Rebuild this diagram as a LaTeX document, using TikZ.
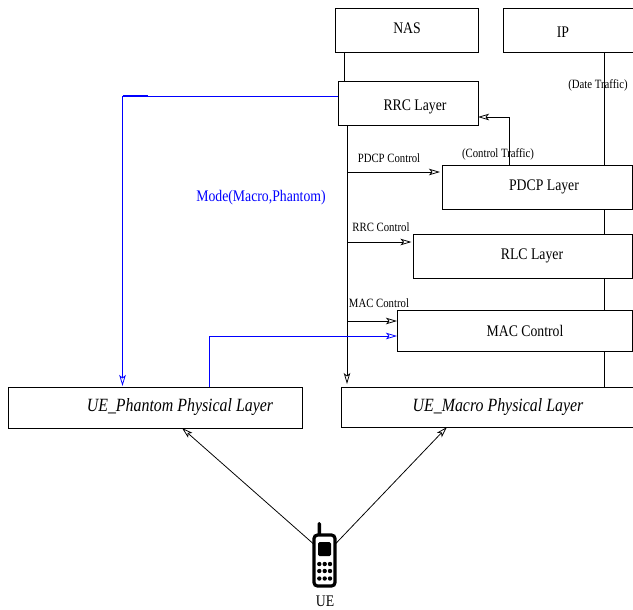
\documentclass[tikz,border=0pt]{standalone}
\usepackage{fontspec}
\setmainfont[FakeStretch=0.85]{Liberation Serif}
\usetikzlibrary{
	calc,               %计算
	positioning,
	arrows.meta         %提供各种箭头
}
\def\px{0.25mm}
\tikzset{
	every picture/.style={
		>={Stealth[open,length=11*\px,width=6.5*\px,inset=2.5*\px]},
		line width=0.55pt
}}
\tikzstyle{layerbox}=[rectangle,
draw,
anchor=north west,
inner sep=0pt,
outer sep=0pt]
\tikzstyle{layertext}=[font=\fontsize{11.5}{13}\selectfont,inner sep=0pt]
\tikzstyle{italictext}=[font=\fontsize{13.3}{15}\selectfont\itshape,inner sep=0pt]
\tikzstyle{smalltext}=[font=\fontsize{9}{11}\selectfont,inner sep=0pt]
\tikzset{modeline/.style={draw=blue}}

\begin{document}
\begin{tikzpicture}[x=\px,y=-\px]
\clip (0,0) rectangle (633,609);
\node[layerbox,minimum width=143*\px,minimum height=44*\px] (nas) at (335,8) {};
\node[layerbox,minimum width=137*\px,minimum height=44*\px] (ip) at (503,8) {};
\node[layerbox,minimum width=140*\px,minimum height=44*\px] (rrc) at (338,81) {};
\node[layerbox,minimum width=190*\px,minimum height=44*\px] (pdcp) at (442,165) {};
\node[layerbox,minimum width=218.5*\px,minimum height=44*\px] (rlc) at (413.5,234) {};
\node[layerbox,minimum width=235*\px,minimum height=41*\px] (mac) at (397,310) {};
\node[layerbox,minimum width=294*\px,minimum height=41*\px] (phantom) at (8,387) {};
\node[layerbox,minimum width=299*\px,minimum height=40*\px] (macro) at (341,387) {};
% box texts
\node[layertext] (nastext) at (407,28.5) {NAS};
\node[layertext] (iptext) at (563,32.5) {IP};
\node[layertext] (rrctext) at (415,106.5) {RRC Layer};
\node[layertext] (pdcptext) at (544,187) {PDCP Layer};
\node[layertext] (rlctext) at (532,255.5) {RLC Layer};
\node[layertext] (mactext) at (525,331) {MAC Control};
\node[italictext] (phantomtext) at (180,407.5) {UE\_Phantom Physical Layer};
\node[italictext] (macrotext) at (498,407.5) {UE\_Macro Physical Layer};
% line labels
\node[smalltext] (datelabel) at (598,85.5) {(Date Traffic)};
\node[smalltext] (traffic) at (498,154.5) {(Control Traffic)};
\node[smalltext] (pdcpctl) at (389,158) {PDCP Control};
\node[smalltext] (rlcctl) at (381,227) {RRC Control};
\node[smalltext] (macctl) at (379,303) {MAC Control};
\node[layertext,text=blue] (mode) at (261,197.5) {Mode(Macro,Phantom)};
% data line
\coordinate (data) at (604,0);
\foreach \a/\b in {ip/pdcp,pdcp/rlc,rlc/mac,mac/macro}
\draw (data |- \a.south) -- (data |- \b.north);
% control lines
\coordinate (ctl) at (347,0);
\draw ($(nas.south west)+(9,0)$) -- ($(rrc.north west)+(6,0)$);
\draw[->,shorten >=3*\px] (ctl |- rrc.south) -- (ctl |- macro.north);
\coordinate (pdcpin) at (442,172);
\coordinate (rlcin) at (413.5,242);
\coordinate (macin) at (397,321);
\draw[->,shorten >=2*\px] (ctl |- pdcpin) -- (pdcpin);
\draw[->,shorten >=2*\px] (ctl |- rlcin) -- (rlcin);
\draw[->] (ctl |- macin) -- (macin);
\draw[->] ($(pdcp.north west)+(67,0)$) |- ($(rrc.south east)+(0,-8)$);
% mode lines
\coordinate (modeout) at (338,96);
\coordinate (modecorner) at (122.5,96);
\coordinate (modein) at (397,336);
\draw[modeline,->,shorten >=1*\px] (modeout) -- (modecorner) -- (modecorner |- phantom.north);
\draw[draw=blue,line width=0.75pt] (modecorner) -- ($(modecorner)+(25.5,0)$);
\draw[modeline,->] ($(phantom.north west)+(201,0)$) |- (modein);
% phone
\fill[line width=0pt,rounded corners=1.5*\px] (317.5,522) rectangle (321,536);
\node[layerbox,line width=3.2*\px,rounded corners=3.5*\px,fill=white,minimum width=21*\px,minimum height=51*\px] (phone) at (314,535) {};
\fill[rounded corners=1.5*\px] (318,542) rectangle (331,556);
\foreach \x in {319.3,324.7,330}
\foreach \y in {564,571,578.5}
\fill (\x,\y) circle (2.2);
\node[layertext] (uelabel) at (325,601.5) {UE};
\draw[->] (phone.123) -- ($(phantom.south)+(27,0)$);
\draw[->] (phone.57) -- ($(macro.south west)+(106,0)$);
\end{tikzpicture}
\end{document}
